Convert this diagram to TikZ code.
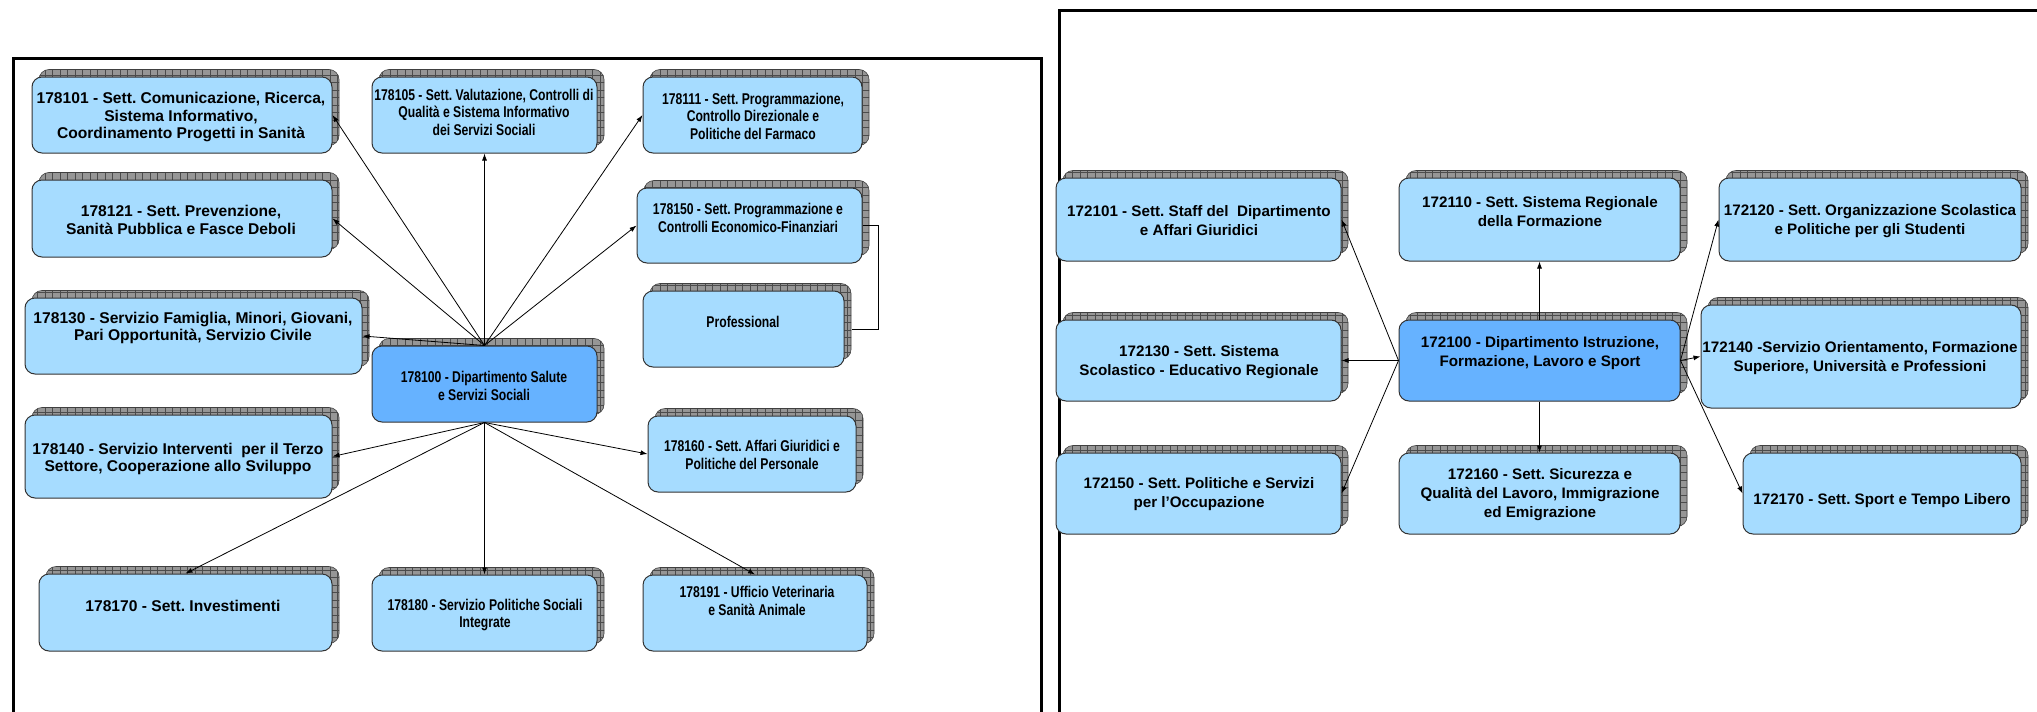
\documentclass[tikz,border=0pt]{standalone}
\usepackage{fontspec}
\setmainfont{Liberation Sans}
\newfontfamily\narrowfont{Liberation Sans}[FakeStretch=0.78]
\usetikzlibrary{arrows.meta,fit}
\frenchspacing
\definecolor{lightbox}{RGB}{166,220,255}
\definecolor{darkbox}{RGB}{102,178,255}
\definecolor{shadowgray}{RGB}{150,150,150}
\tikzset{
  orgnode/.style={draw=black!80, line width=1pt, rounded corners=10pt, inner sep=0pt},
  normtxt/.style={font=\fontsize{15.6}{17.5}\selectfont\bfseries, align=center, inner sep=0pt},
  nartxt/.style={font=\narrowfont\fontsize{15.6}{17.5}\selectfont\bfseries, align=center, inner sep=0pt},
  righttxt/.style={font=\fontsize{15.2}{19}\selectfont\bfseries, align=center, inner sep=0pt},
  arr/.style={-{Latex[length=7pt,width=5pt]}, line width=0.8pt, black},
  frame/.style={line width=3pt, black},
}
\newcommand\orgbox[6]{%
  \begin{scope}
    \clip[rounded corners=10pt] ({#2+7},{#3-7.5}) rectangle ({#4+7},{#5-7.5});
    \fill[shadowgray] ({#2},{#3-10}) rectangle ({#4+10},{#5});
    \draw[black!70, line width=0.5pt, step=7.5pt] ({#2},{#3-10}) grid ({#4+10},{#5});
  \end{scope}
  \draw[black!75, line width=0.6pt, rounded corners=10pt] ({#2+7},{#3-7.5}) rectangle ({#4+7},{#5-7.5});
  \node[orgnode, fill=#6, fit={(#2,#3) (#4,#5)}] (#1) {};
}
\begin{document}
\begin{tikzpicture}[x=1pt,y=-1pt]
\useasboundingbox[fill=white] (0,0) rectangle (2037,712);
% frames
\draw[frame] (13,720) -- (13,58) -- (1041,58) -- (1041,720);
\draw[frame] (1059,720) -- (1059,10) -- (2045,10);
% left chart boxes
\orgbox{b101}{32}{77}{332}{153}{lightbox}
\orgbox{b105}{372}{77}{597}{153}{lightbox}
\orgbox{b111}{643}{77}{862}{153}{lightbox}
\orgbox{b121}{32}{180}{332}{257}{lightbox}
\orgbox{b150}{637}{188}{862}{263}{lightbox}
\orgbox{b130}{25}{298}{362}{374}{lightbox}
\orgbox{prof}{643}{291}{844}{367}{lightbox}
\orgbox{c1}{372}{346}{597}{422}{darkbox}
\orgbox{b140}{25}{415}{332}{498}{lightbox}
\orgbox{b160}{648}{416}{856}{492}{lightbox}
\orgbox{b170}{39}{574}{332}{651}{lightbox}
\orgbox{b180}{372}{575}{597}{651}{lightbox}
\orgbox{b191}{643}{575}{867}{651}{lightbox}
% right chart boxes
\orgbox{r101}{1056}{178}{1341}{261}{lightbox}
\orgbox{r110}{1399}{178}{1680}{261}{lightbox}
\orgbox{r120}{1719}{178}{2021}{261}{lightbox}
\orgbox{r130}{1056}{320}{1341}{401}{lightbox}
\orgbox{c2}{1399}{320}{1680}{401}{darkbox}
\orgbox{r140}{1701}{305}{2021}{408}{lightbox}
\orgbox{r150}{1056}{453}{1341}{534}{lightbox}
\orgbox{r160}{1399}{453}{1680}{534}{lightbox}
\orgbox{r170}{1743}{453}{2021}{534}{lightbox}
% left texts
\node[normtxt] (b101t) at (181,117) {178101 - Sett. Comunicazione, Ricerca,\\Sistema Informativo,\\Coordinamento Progetti in Sanità};
\node[nartxt] (b105t) at (484,112) {178105 - Sett. Valutazione, Controlli di\\Qualità e Sistema Informativo\\dei Servizi Sociali};
\node[nartxt] (b111t) at (753,116) {178111 - Sett. Programmazione,\\Controllo Direzionale e\\Politiche del Farmaco};
\node[normtxt] (b121t) at (181,220) {178121 - Sett. Prevenzione,\\Sanità Pubblica e Fasce Deboli};
\node[nartxt] (b150t) at (748,218) {178150 - Sett. Programmazione e\\Controlli Economico-Finanziari};
\node[normtxt] (b130t) at (193,328) {178130 - Servizio Famiglia, Minori, Giovani,\\Pari Opportunità, Servizio Civile};
\node[nartxt] (proft) at (743,322) {Professional};
\node[nartxt] (c1t) at (484,386) {178100 - Dipartimento Salute\\e Servizi Sociali};
\node[normtxt] (b140t) at (178,459) {178140 - Servizio Interventi\ \ per il Terzo\\Settore, Cooperazione allo Sviluppo};
\node[nartxt] (b160t) at (752,455) {178160 - Sett. Affari Giuridici e\\Politiche del Personale};
\node[normtxt] (b170t) at (183,606) {178170 - Sett. Investimenti};
\node[nartxt] (b180t) at (485,615) {178180 - Servizio Politiche Sociali\\Integrate};
\node[nartxt] (b191t) at (757,601) {178191 - Ufficio Veterinaria\\e Sanità Animale};
% right texts
\node[righttxt] (r101t) at (1199,221) {172101 - Sett. Staff del\ \ Dipartimento\\e Affari Giuridici};
\node[righttxt] (r110t) at (1540,212) {172110 - Sett. Sistema Regionale\\della Formazione};
\node[righttxt] (r120t) at (1870,221) {172120 - Sett. Organizzazione Scolastica\\e Politiche per gli Studenti};
\node[righttxt] (r130t) at (1199,362) {172130 - Sett. Sistema\\Scolastico - Educativo Regionale};
\node[righttxt] (c2t) at (1540,353) {172100 - Dipartimento Istruzione,\\Formazione, Lavoro e Sport};
\node[righttxt] (r140t) at (1860,358) {172140 -Servizio Orientamento, Formazione\\Superiore, Università e Professioni};
\node[righttxt] (r150t) at (1199,494) {172150 - Sett. Politiche e Servizi\\per l’Occupazione};
\node[righttxt] (r160t) at (1540,495) {172160 - Sett. Sicurezza e\\Qualità del Lavoro, Immigrazione\\ed Emigrazione};
\node[righttxt] (r170t) at (1882,501) {172170 - Sett. Sport e Tempo Libero};
% left connectors
\draw[arr] (c1.north) -- (b101.east);
\draw[arr] (c1.north) -- (b121.east);
\draw[arr] (c1.north) -- (b130.east);
\draw[arr] (c1.north) -- (b105.south);
\draw[arr] (c1.north) -- (b111.west);
\draw[arr] (c1.north) -- (b150.west);
\draw[arr] (c1.south) -- (b140.east);
\draw[arr] (c1.south) -- (b170.north);
\draw[arr] (c1.south) -- (b180.north);
\draw[arr] (c1.south) -- (b191.north);
\draw[arr] (c1.south) -- (b160.west);
\draw[line width=0.8pt] (b150.east) -- ++(16,0) |- ([xshift=7pt]prof.east);
% right connectors
\draw[arr] (c2.west) -- (r101.east);
\draw[arr] (c2.west) -- (r130.east);
\draw[arr] (c2.west) -- (r150.east);
\draw[arr] (c2.north) -- (r110.south);
\draw[arr] (c2.south) -- (r160.north);
\draw[arr] (c2.east) -- (r120.west);
\draw[arr] (c2.east) -- (r140.west);
\draw[arr] (c2.east) -- (r170.west);
\end{tikzpicture}
\end{document}
